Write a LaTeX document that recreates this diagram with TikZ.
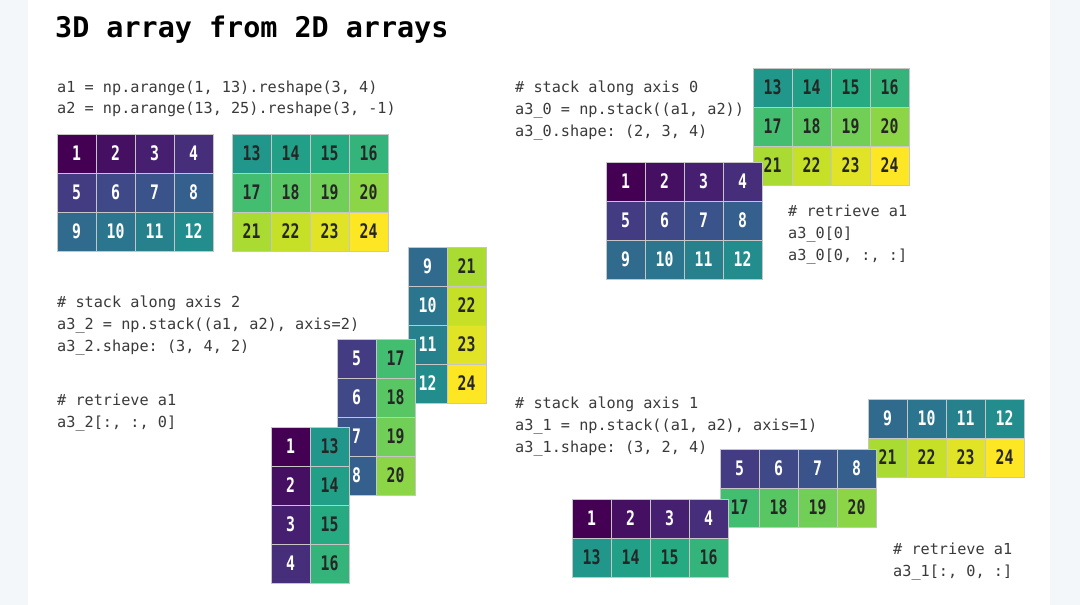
\documentclass[tikz,border=0pt]{standalone}
\usepackage{fontspec}
\setmonofont{DejaVu Sans Mono}
\newfontfamily\celdafont[FakeStretch=0.74]{DejaVu Sans Mono}

% colores viridis para los valores 1..24
\definecolor{v1}{RGB}{68,1,84}
\definecolor{v2}{RGB}{70,16,98}
\definecolor{v3}{RGB}{71,31,113}
\definecolor{v4}{RGB}{70,46,123}
\definecolor{v5}{RGB}{67,60,130}
\definecolor{v6}{RGB}{63,73,136}
\definecolor{v7}{RGB}{58,84,139}
\definecolor{v8}{RGB}{53,96,141}
\definecolor{v9}{RGB}{48,107,141}
\definecolor{v10}{RGB}{43,118,142}
\definecolor{v11}{RGB}{39,129,141}
\definecolor{v12}{RGB}{35,140,140}
\definecolor{v13}{RGB}{33,150,138}
\definecolor{v14}{RGB}{34,160,135}
\definecolor{v15}{RGB}{37,170,130}
\definecolor{v16}{RGB}{52,180,122}
\definecolor{v17}{RGB}{67,190,113}
\definecolor{v18}{RGB}{89,198,100}
\definecolor{v19}{RGB}{113,206,86}
\definecolor{v20}{RGB}{140,213,70}
\definecolor{v21}{RGB}{169,219,51}
\definecolor{v22}{RGB}{197,224,38}
\definecolor{v23}{RGB}{225,228,38}
\definecolor{v24}{RGB}{253,231,37}
\definecolor{margen}{RGB}{244,247,250}
\definecolor{textocodigo}{RGB}{58,58,58}

\begin{document}
\begin{tikzpicture}[x=1pt, y=-1pt,
    titulo/.style={anchor=base west, inner sep=0pt, font=\ttfamily\bfseries\fontsize{28.4}{30}\selectfont},
    codigo/.style={anchor=base west, inner sep=0pt, text=textocodigo, font=\ttfamily\fontsize{15.2}{18}\selectfont},
    celda base/.style={draw=gray!45, line width=1pt, minimum size=39pt, inner sep=0pt,
        font=\celdafont\bfseries\fontsize{20}{20}\selectfont},
    celda/.code={\pgfkeysalso{celda base, fill=v#1}%
        \ifnum#1<13\relax\pgfkeysalso{text=white}\else\pgfkeysalso{text=black!85}\fi}]

    % 1. Fondo y margenes
    \useasboundingbox (0,0) rectangle (1080,605);
    \fill[margen] (0,0) rectangle (1080,605);
    \fill[white] (28,0) rectangle (1050,605);

    % 2. Titulo
    \node[titulo] (titulo) at (55,37) {3D array from 2D arrays};

    % 3. Arreglos a1 y a2
    \node[codigo] (def-a1) at (57,92) {a1 = np.arange(1, 13).reshape(3, 4)};
    \node[codigo] (def-a2) at (57,113) {a2 = np.arange(13, 25).reshape(3, -1)};
    \foreach \nombre/\x/\y/\ini in {a1/57/134/1, a2/232/134/13} {
        \foreach \f in {0,1,2} {
            \foreach \c in {0,...,3} {
                \pgfmathtruncatemacro{\v}{\ini+4*\f+\c}
                \node[celda=\v] (\nombre-\v) at ({\x+19.5+39*\c},{\y+19.5+39*\f}) {\v};
            }
        }
    }

    % 4. Apilar a lo largo del eje 0 (a2 detras, a1 delante)
    \node[codigo] (eje0-a) at (515,92) {\# stack along axis 0};
    \node[codigo] (eje0-b) at (515,114) {a3\_0 = np.stack((a1, a2))};
    \node[codigo] (eje0-c) at (515,136) {a3\_0.shape: (2, 3, 4)};
    \foreach \nombre/\x/\y/\ini in {s0b/753/68/13, s0f/606/162/1} {
        \foreach \f in {0,1,2} {
            \foreach \c in {0,...,3} {
                \pgfmathtruncatemacro{\v}{\ini+4*\f+\c}
                \node[celda=\v] (\nombre-\v) at ({\x+19.5+39*\c},{\y+19.5+39*\f}) {\v};
            }
        }
    }
    \node[codigo] (rec0-a) at (788,216) {\# retrieve a1};
    \node[codigo] (rec0-b) at (788,238) {a3\_0[0]};
    \node[codigo] (rec0-c) at (788,260) {a3\_0[0, :, :]};

    % 5. Apilar a lo largo del eje 2 (rebanadas de 4x2)
    \node[codigo] (eje2-a) at (57,307) {\# stack along axis 2};
    \node[codigo] (eje2-b) at (57,329) {a3\_2 = np.stack((a1, a2), axis=2)};
    \node[codigo] (eje2-c) at (57,351) {a3\_2.shape: (3, 4, 2)};
    \node[codigo] (rec2-a) at (57,405) {\# retrieve a1};
    \node[codigo] (rec2-b) at (57,427) {a3\_2[:, :, 0]};
    \foreach \i/\x/\y in {2/408/247, 1/337/339, 0/271/427} {
        \foreach \f in {0,...,3} {
            \pgfmathtruncatemacro{\va}{1+4*\i+\f}
            \pgfmathtruncatemacro{\vb}{13+4*\i+\f}
            \node[celda=\va] (s2-\va) at ({\x+19.5},{\y+19.5+39*\f}) {\va};
            \node[celda=\vb] (s2-\vb) at ({\x+58.5},{\y+19.5+39*\f}) {\vb};
        }
    }

    % 6. Apilar a lo largo del eje 1 (rebanadas de 2x4)
    \node[codigo] (eje1-a) at (515,408) {\# stack along axis 1};
    \node[codigo] (eje1-b) at (515,430) {a3\_1 = np.stack((a1, a2), axis=1)};
    \node[codigo] (eje1-c) at (515,452) {a3\_1.shape: (3, 2, 4)};
    \foreach \i/\x/\y in {2/868/399, 1/720/449, 0/572/499} {
        \foreach \c in {0,...,3} {
            \pgfmathtruncatemacro{\va}{1+4*\i+\c}
            \pgfmathtruncatemacro{\vb}{13+4*\i+\c}
            \node[celda=\va] (s1-\va) at ({\x+19.5+39*\c},{\y+19.5}) {\va};
            \node[celda=\vb] (s1-\vb) at ({\x+19.5+39*\c},{\y+58.5}) {\vb};
        }
    }
    \node[codigo] (rec1-a) at (893,554) {\# retrieve a1};
    \node[codigo] (rec1-b) at (893,576) {a3\_1[:, 0, :]};

\end{tikzpicture}
\end{document}
